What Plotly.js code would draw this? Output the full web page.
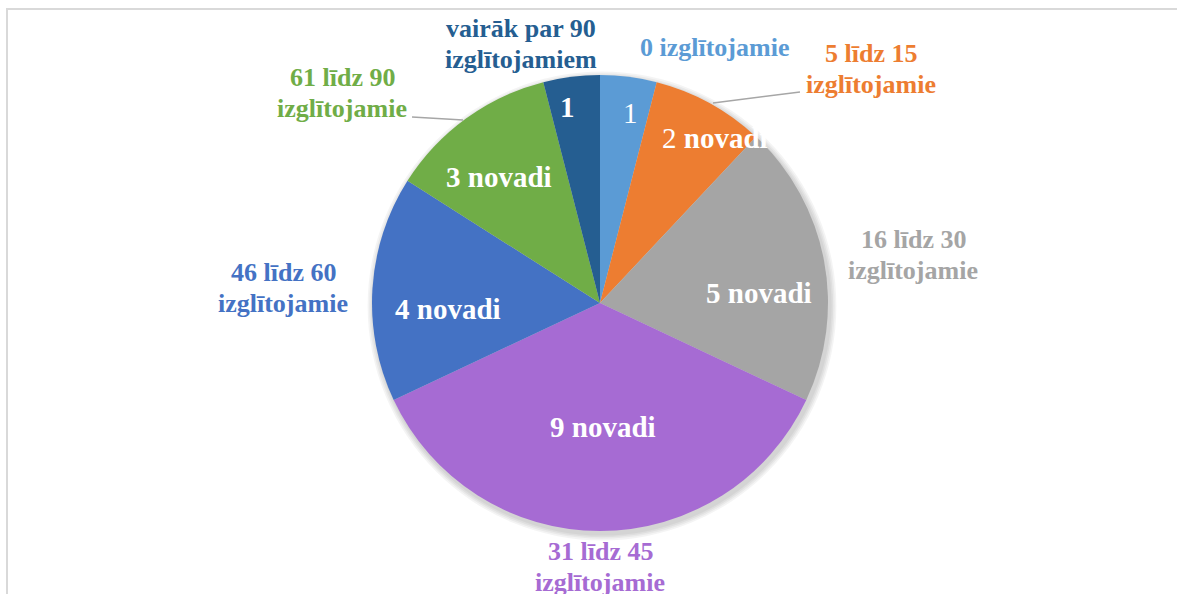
<!DOCTYPE html>
<html>
<head>
<meta charset="utf-8">
<script src="https://cdn.plot.ly/plotly-3.0.1.min.js"></script>
<style>
html,body{margin:0;padding:0;background:#fff;}
#chart{width:1177px;height:594px;}
</style>
</head>
<body>
<div id="chart"></div>
<script>
// ---- data ----
const categories = ['0 izglītojamie', '5 līdz 15 izglītojamie', '16 līdz 30 izglītojamie', '31 līdz 45 izglītojamie', '46 līdz 60 izglītojamie', '61 līdz 90 izglītojamie', 'vairāk par 90 izglītojamiem'];
const categoryLines = [['0 izglītojamie'], ['5 līdz 15', 'izglītojamie'], ['16 līdz 30', 'izglītojamie'], ['31 līdz 45', 'izglītojamie'], ['46 līdz 60', 'izglītojamie'], ['61 līdz 90', 'izglītojamie'], ['vairāk par 90', 'izglītojamiem']];
const values = [1, 2, 5, 9, 4, 3, 1];
const valueUnit = 'novadi';

// ---- styles / layout (not data) ----
const W = 1177, H = 594;
const colors = ['#5B9BD5', '#ED7D31', '#A5A5A5', '#A66BD3', '#4472C4', '#70AD47', '#255E91'];
const cx = 600, cy = 303, R = 228;
const innerPos = [[630, 113], [715, 138], [759, 293], [603, 427], [448, 309], [499, 177], [567, 107]];
const innerStyle = ['regular', 'numRegular', 'bold', 'bold', 'bold', 'bold', 'bold'];
const outerPos = [[714, 48], [871, 69], [913, 255], [600, 567], [283, 288], [342, 93], [521, 44]];
const LINE_GAP = 31;
const FONT = '"Liberation Serif", "Times New Roman", serif';

function P(px, py) { return [px / W, 1 - py / H]; }

function innerText(i) {
  const v = values[i];
  const txt = v === 1 ? String(v) : v + ' ' + valueUnit;
  if (innerStyle[i] === 'regular') return txt;
  if (innerStyle[i] === 'numRegular') return v + ' <b>' + valueUnit + '</b>';
  return '<b>' + txt + '</b>';
}

const trace = {
  type: 'pie',
  labels: categories,
  values: values,
  sort: false,
  direction: 'clockwise',
  rotation: 0,
  textinfo: 'none',
  hoverinfo: 'label+value',
  marker: { colors: colors, line: { width: 0 } },
  showlegend: false,
  domain: { x: [(cx - R) / W, (cx + R) / W], y: [1 - (cy + R) / H, 1 - (cy - R) / H] }
};

const annotations = [];
for (let i = 0; i < values.length; i++) {
  const [ix, iy] = P(innerPos[i][0], innerPos[i][1]);
  annotations.push({
    xref: 'paper', yref: 'paper', x: ix, y: iy, xanchor: 'center', yanchor: 'middle',
    text: innerText(i), showarrow: false,
    font: { family: FONT, size: 29, color: '#FFFFFF' }
  });
  const lines = categoryLines[i];
  const n = lines.length;
  lines.forEach((ln, j) => {
    const py = outerPos[i][1] + (j - (n - 1) / 2) * LINE_GAP;
    const [ox, oy] = P(outerPos[i][0], py);
    annotations.push({
      xref: 'paper', yref: 'paper', x: ox, y: oy, xanchor: 'center', yanchor: 'middle',
      text: '<b>' + ln + '</b>', showarrow: false, align: 'center',
      font: { family: FONT, size: 26, color: colors[i] }
    });
  });
}

function lineShape(a, b) {
  const p = P(a[0], a[1]), q = P(b[0], b[1]);
  return { type: 'line', xref: 'paper', yref: 'paper', x0: p[0], y0: p[1], x1: q[0], y1: q[1],
    line: { color: '#A6A6A6', width: 1.5 }, layer: 'above' };
}

const shapes = [];
// soft shadow rings behind the pie
for (let k = 4; k >= 1; k--) {
  const r = R + k * 1.6;
  const sx = cx + 2, sy = cy + 3;
  const a = P(sx - r, sy - r), b = P(sx + r, sy + r);
  shapes.push({ type: 'circle', xref: 'paper', yref: 'paper', x0: a[0], y0: b[1], x1: b[0], y1: a[1],
    fillcolor: 'rgba(0,0,0,0.045)', line: { width: 0 }, layer: 'below' });
}
// leader lines
shapes.push(lineShape([713, 103], [800, 92]));
shapes.push(lineShape([412, 117], [463, 120]));
// chart frame
{
  const a = P(7, 9), b = P(1190, 610);
  shapes.push({ type: 'rect', xref: 'paper', yref: 'paper', x0: a[0], y0: b[1], x1: b[0], y1: a[1],
    line: { color: '#D9D9D9', width: 2 }, fillcolor: 'rgba(0,0,0,0)', layer: 'below' });
}

const layout = {
  width: W, height: H,
  margin: { l: 0, r: 0, t: 0, b: 0 },
  paper_bgcolor: '#FFFFFF',
  plot_bgcolor: '#FFFFFF',
  annotations: annotations,
  shapes: shapes,
  font: { family: FONT }
};

Plotly.newPlot('chart', [trace], layout, { displayModeBar: false, staticPlot: true });
</script>
</body>
</html>
